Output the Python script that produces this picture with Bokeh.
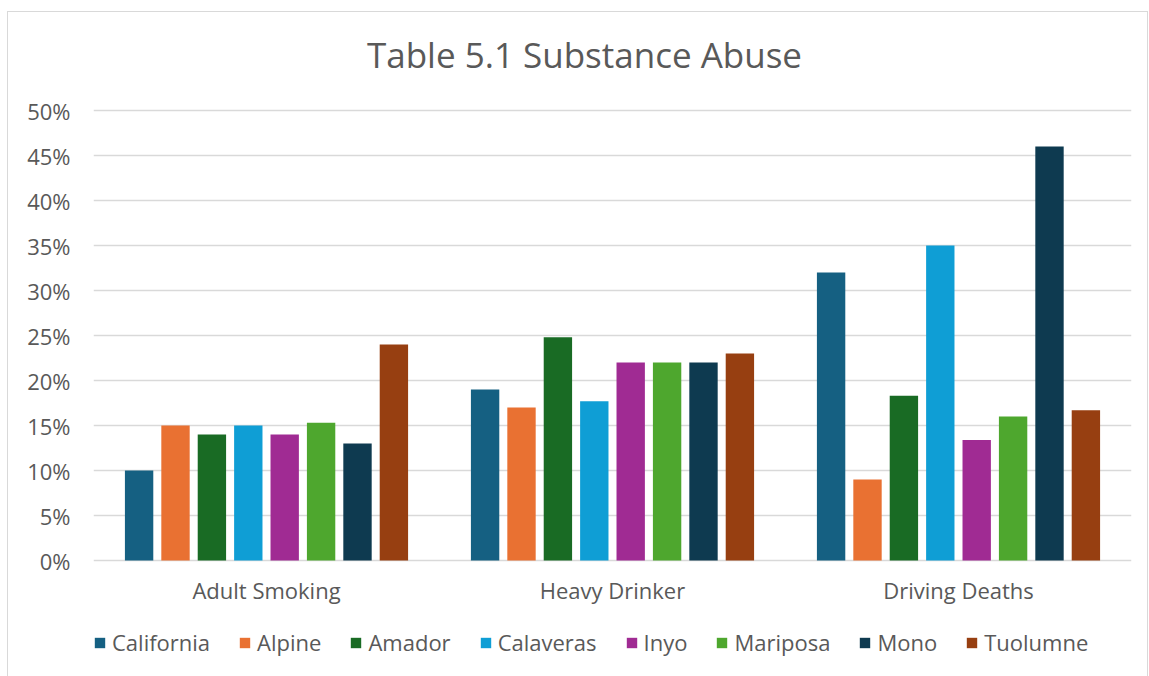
from bokeh.plotting import figure
from bokeh.models import (ColumnDataSource, FactorRange, Range1d, Legend, LegendItem,
                          NumeralTickFormatter, FixedTicker)
from bokeh.transform import dodge
from bokeh.embed import file_html
from bokeh.resources import INLINE

# Substance abuse indicators by county (share of population)
measures = ["Adult Smoking", "Heavy Drinker", "Driving Deaths"]
series_names = ["California", "Alpine", "Amador", "Calaveras", "Inyo", "Mariposa", "Mono", "Tuolumne"]
california = [0.10, 0.19, 0.32]
alpine = [0.15, 0.17, 0.09]
amador = [0.14, 0.248, 0.183]
calaveras = [0.15, 0.177, 0.35]
inyo = [0.14, 0.22, 0.134]
mariposa = [0.153, 0.22, 0.16]
mono = [0.13, 0.22, 0.46]
tuolumne = [0.24, 0.23, 0.167]
y_ticks = [0.0, 0.05, 0.10, 0.15, 0.20, 0.25, 0.30, 0.35, 0.40, 0.45, 0.50]
chart_title = "Table 5.1 Substance Abuse"

series_values = [california, alpine, amador, calaveras, inyo, mariposa, mono, tuolumne]
colors = ["#156082", "#E97132", "#196B24", "#0F9ED5", "#A02B93", "#4EA72E", "#0E3A50", "#973F11"]

data = {"measure": measures}
for name, vals in zip(series_names, series_values):
    data[name] = vals
source = ColumnDataSource(data)

FONT = "Open Sans"
TEXT = "#595959"
GRID = "#d9d9d9"

# the frame reaches past the 0-50% band on both sides so the title, the
# category labels and the legend row live inside it; 900 px per unit of share
Y_MIN = -106 / 900
Y_MAX = 540 / 900

p = figure(
    x_range=FactorRange(factors=measures, range_padding=0),
    y_range=Range1d(Y_MIN, Y_MAX),
    width=1141, height=667,
    output_backend="svg", toolbar_location=None,
    min_border_left=85, min_border_right=18, min_border_top=8, min_border_bottom=13,
)
p.styles = {"border": f"1px solid {GRID}", "margin-left": "7px", "margin-top": "11px"}
p.outline_line_color = None

# chart title, centred a little left of the middle category
title_src = ColumnDataSource({"x": [measures[1]], "y": [0.5622], "t": [chart_title]})
p.text(x=dodge("x", -0.081, range=p.x_range), y="y", text="t", source=title_src,
       text_align="center", text_baseline="middle",
       text_font={"value": FONT}, text_font_size={"value": "35px"}, text_color=TEXT)

step = 0.1052
width = 0.082
items = []
for i, (name, col) in enumerate(zip(series_names, colors)):
    off = (i - 3.5) * step
    r = p.vbar(x=dodge("measure", off, range=p.x_range), top=name, width=width,
               source=source, fill_color=col, line_color=None)
    items.append(LegendItem(label=name, renderers=[r]))

# category labels under the baseline
p.text(x=measures, y=[-0.0333] * len(measures), text=measures,
       text_align="center", text_baseline="middle",
       text_font={"value": FONT}, text_font_size={"value": "22px"}, text_color=TEXT)

# y axis
p.yaxis.ticker = FixedTicker(ticks=y_ticks)
p.yaxis.formatter = NumeralTickFormatter(format="0%")
p.yaxis.axis_line_color = None
p.yaxis.major_tick_line_color = None
p.yaxis.minor_tick_line_color = None
p.yaxis.major_label_standoff = 17
p.yaxis.major_label_text_font = FONT
p.yaxis.major_label_text_font_size = "22px"
p.yaxis.major_label_text_color = TEXT

p.xaxis.visible = False
p.xgrid.grid_line_color = None
p.ygrid.grid_line_color = GRID
p.ygrid.grid_line_width = 1.5

legend = Legend(items=items, orientation="horizontal", location=(0, 9),
                label_text_font=FONT, label_text_font_size="22px", label_text_color=TEXT,
                glyph_width=13, glyph_height=13, label_standoff=6, spacing=28,
                border_line_color=None, background_fill_alpha=0, margin=0, padding=0)
p.add_layout(legend)

open("out.html", "w").write(file_html(p, INLINE))
